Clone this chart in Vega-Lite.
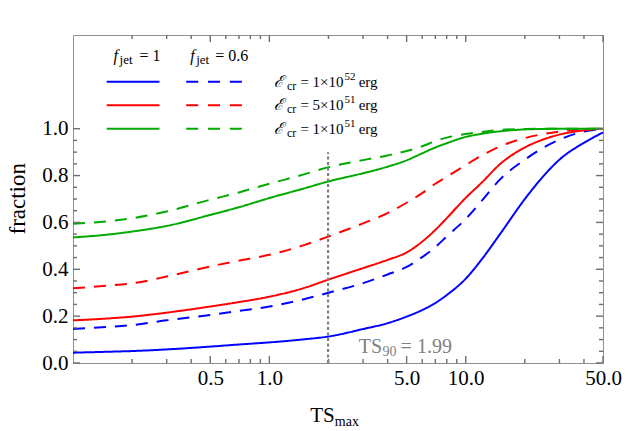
{
  "$schema": "https://vega.github.io/schema/vega-lite/v6.json",
  "width": 530,
  "height": 328,
  "autosize": {"type": "none"},
  "padding": {"left": 73, "top": 35, "right": 29, "bottom": 68},
  "config": {"view": {"stroke": "#909090", "strokeWidth": 1}, "background": "white"},
  "datasets": {
    "curves": [
      {"x":0.1,"y":0.044,"E":"1e52","f":"1"},{"x":0.15,"y":0.048,"E":"1e52","f":"1"},{"x":0.2,"y":0.051,"E":"1e52","f":"1"},{"x":0.3,"y":0.058,"E":"1e52","f":"1"},{"x":0.5,"y":0.070,"E":"1e52","f":"1"},{"x":0.7,"y":0.079,"E":"1e52","f":"1"},{"x":1,"y":0.088,"E":"1e52","f":"1"},{"x":1.5,"y":0.101,"E":"1e52","f":"1"},{"x":2,"y":0.113,"E":"1e52","f":"1"},{"x":3,"y":0.145,"E":"1e52","f":"1"},{"x":4,"y":0.170,"E":"1e52","f":"1"},{"x":5,"y":0.198,"E":"1e52","f":"1"},{"x":6,"y":0.226,"E":"1e52","f":"1"},{"x":7,"y":0.256,"E":"1e52","f":"1"},{"x":8,"y":0.290,"E":"1e52","f":"1"},{"x":10,"y":0.360,"E":"1e52","f":"1"},{"x":12,"y":0.440,"E":"1e52","f":"1"},{"x":15,"y":0.552,"E":"1e52","f":"1"},{"x":20,"y":0.700,"E":"1e52","f":"1"},{"x":25,"y":0.800,"E":"1e52","f":"1"},{"x":30,"y":0.868,"E":"1e52","f":"1"},{"x":40,"y":0.940,"E":"1e52","f":"1"},{"x":50,"y":0.984,"E":"1e52","f":"1"},
      {"x":0.1,"y":0.145,"E":"1e52","f":"0.6"},{"x":0.15,"y":0.154,"E":"1e52","f":"0.6"},{"x":0.2,"y":0.162,"E":"1e52","f":"0.6"},{"x":0.3,"y":0.182,"E":"1e52","f":"0.6"},{"x":0.5,"y":0.205,"E":"1e52","f":"0.6"},{"x":0.7,"y":0.222,"E":"1e52","f":"0.6"},{"x":1,"y":0.241,"E":"1e52","f":"0.6"},{"x":1.5,"y":0.272,"E":"1e52","f":"0.6"},{"x":2,"y":0.300,"E":"1e52","f":"0.6"},{"x":3,"y":0.341,"E":"1e52","f":"0.6"},{"x":4,"y":0.378,"E":"1e52","f":"0.6"},{"x":5,"y":0.410,"E":"1e52","f":"0.6"},{"x":6,"y":0.452,"E":"1e52","f":"0.6"},{"x":7,"y":0.495,"E":"1e52","f":"0.6"},{"x":8,"y":0.540,"E":"1e52","f":"0.6"},{"x":10,"y":0.615,"E":"1e52","f":"0.6"},{"x":12,"y":0.690,"E":"1e52","f":"0.6"},{"x":15,"y":0.785,"E":"1e52","f":"0.6"},{"x":20,"y":0.868,"E":"1e52","f":"0.6"},{"x":25,"y":0.920,"E":"1e52","f":"0.6"},{"x":30,"y":0.953,"E":"1e52","f":"0.6"},{"x":40,"y":0.988,"E":"1e52","f":"0.6"},{"x":50,"y":0.998,"E":"1e52","f":"0.6"},
      {"x":0.1,"y":0.182,"E":"5e51","f":"1"},{"x":0.15,"y":0.190,"E":"5e51","f":"1"},{"x":0.2,"y":0.198,"E":"5e51","f":"1"},{"x":0.3,"y":0.215,"E":"5e51","f":"1"},{"x":0.5,"y":0.241,"E":"5e51","f":"1"},{"x":0.7,"y":0.260,"E":"5e51","f":"1"},{"x":1,"y":0.283,"E":"5e51","f":"1"},{"x":1.5,"y":0.320,"E":"5e51","f":"1"},{"x":2,"y":0.356,"E":"5e51","f":"1"},{"x":3,"y":0.405,"E":"5e51","f":"1"},{"x":4,"y":0.440,"E":"5e51","f":"1"},{"x":5,"y":0.472,"E":"5e51","f":"1"},{"x":6,"y":0.518,"E":"5e51","f":"1"},{"x":7,"y":0.568,"E":"5e51","f":"1"},{"x":8,"y":0.618,"E":"5e51","f":"1"},{"x":10,"y":0.705,"E":"5e51","f":"1"},{"x":12,"y":0.768,"E":"5e51","f":"1"},{"x":15,"y":0.850,"E":"5e51","f":"1"},{"x":20,"y":0.920,"E":"5e51","f":"1"},{"x":25,"y":0.955,"E":"5e51","f":"1"},{"x":30,"y":0.975,"E":"5e51","f":"1"},{"x":40,"y":0.993,"E":"5e51","f":"1"},{"x":50,"y":1.0,"E":"5e51","f":"1"},
      {"x":0.1,"y":0.319,"E":"5e51","f":"0.6"},{"x":0.15,"y":0.330,"E":"5e51","f":"0.6"},{"x":0.2,"y":0.340,"E":"5e51","f":"0.6"},{"x":0.3,"y":0.369,"E":"5e51","f":"0.6"},{"x":0.5,"y":0.412,"E":"5e51","f":"0.6"},{"x":0.7,"y":0.437,"E":"5e51","f":"0.6"},{"x":1,"y":0.462,"E":"5e51","f":"0.6"},{"x":1.5,"y":0.503,"E":"5e51","f":"0.6"},{"x":2,"y":0.540,"E":"5e51","f":"0.6"},{"x":3,"y":0.596,"E":"5e51","f":"0.6"},{"x":4,"y":0.640,"E":"5e51","f":"0.6"},{"x":5,"y":0.684,"E":"5e51","f":"0.6"},{"x":6,"y":0.725,"E":"5e51","f":"0.6"},{"x":7,"y":0.765,"E":"5e51","f":"0.6"},{"x":8,"y":0.795,"E":"5e51","f":"0.6"},{"x":10,"y":0.845,"E":"5e51","f":"0.6"},{"x":12,"y":0.885,"E":"5e51","f":"0.6"},{"x":15,"y":0.925,"E":"5e51","f":"0.6"},{"x":20,"y":0.960,"E":"5e51","f":"0.6"},{"x":25,"y":0.978,"E":"5e51","f":"0.6"},{"x":30,"y":0.988,"E":"5e51","f":"0.6"},{"x":40,"y":0.998,"E":"5e51","f":"0.6"},{"x":50,"y":1.0,"E":"5e51","f":"0.6"},
      {"x":0.1,"y":0.536,"E":"1e51","f":"1"},{"x":0.15,"y":0.548,"E":"1e51","f":"1"},{"x":0.2,"y":0.561,"E":"1e51","f":"1"},{"x":0.3,"y":0.585,"E":"1e51","f":"1"},{"x":0.5,"y":0.632,"E":"1e51","f":"1"},{"x":0.7,"y":0.665,"E":"1e51","f":"1"},{"x":1,"y":0.704,"E":"1e51","f":"1"},{"x":1.5,"y":0.745,"E":"1e51","f":"1"},{"x":2,"y":0.775,"E":"1e51","f":"1"},{"x":3,"y":0.810,"E":"1e51","f":"1"},{"x":4,"y":0.838,"E":"1e51","f":"1"},{"x":5,"y":0.865,"E":"1e51","f":"1"},{"x":6,"y":0.895,"E":"1e51","f":"1"},{"x":7,"y":0.920,"E":"1e51","f":"1"},{"x":8,"y":0.938,"E":"1e51","f":"1"},{"x":10,"y":0.965,"E":"1e51","f":"1"},{"x":12,"y":0.978,"E":"1e51","f":"1"},{"x":15,"y":0.989,"E":"1e51","f":"1"},{"x":20,"y":0.997,"E":"1e51","f":"1"},{"x":25,"y":0.999,"E":"1e51","f":"1"},{"x":30,"y":1.0,"E":"1e51","f":"1"},{"x":40,"y":1.0,"E":"1e51","f":"1"},{"x":50,"y":1.0,"E":"1e51","f":"1"},
      {"x":0.1,"y":0.594,"E":"1e51","f":"0.6"},{"x":0.15,"y":0.605,"E":"1e51","f":"0.6"},{"x":0.2,"y":0.618,"E":"1e51","f":"0.6"},{"x":0.3,"y":0.647,"E":"1e51","f":"0.6"},{"x":0.5,"y":0.697,"E":"1e51","f":"0.6"},{"x":0.7,"y":0.728,"E":"1e51","f":"0.6"},{"x":1,"y":0.765,"E":"1e51","f":"0.6"},{"x":1.5,"y":0.805,"E":"1e51","f":"0.6"},{"x":2,"y":0.836,"E":"1e51","f":"0.6"},{"x":3,"y":0.866,"E":"1e51","f":"0.6"},{"x":4,"y":0.886,"E":"1e51","f":"0.6"},{"x":5,"y":0.905,"E":"1e51","f":"0.6"},{"x":6,"y":0.925,"E":"1e51","f":"0.6"},{"x":7,"y":0.947,"E":"1e51","f":"0.6"},{"x":8,"y":0.962,"E":"1e51","f":"0.6"},{"x":10,"y":0.977,"E":"1e51","f":"0.6"},{"x":12,"y":0.986,"E":"1e51","f":"0.6"},{"x":15,"y":0.995,"E":"1e51","f":"0.6"},{"x":20,"y":0.999,"E":"1e51","f":"0.6"},{"x":25,"y":1.0,"E":"1e51","f":"0.6"},{"x":30,"y":1.0,"E":"1e51","f":"0.6"},{"x":40,"y":1.0,"E":"1e51","f":"0.6"},{"x":50,"y":1.0,"E":"1e51","f":"0.6"}
    ],
    "one": [{"n": 1}]
  },
  "layer": [
    {
      "data": {"name": "curves"},
      "mark": {"type": "line", "strokeWidth": 2, "interpolate": "monotone"},
      "encoding": {
        "x": {"field": "x", "type": "quantitative",
              "scale": {"type": "log", "domain": [0.1, 50], "nice": false},
              "axis": {"orient": "bottom", "values": [0.5, 1, 5, 10, 50], "format": ".1f", "ticks": false, "tickSize": 0, "domain": false, "grid": false, "labelPadding": 4, "labelFont": "Liberation Serif", "labelFontSize": 21, "labelColor": "black", "labelFlush": false, "labelOverlap": false, "title": null}},
        "y": {"field": "y", "type": "quantitative",
              "scale": {"domain": [0, 1.4], "nice": false, "zero": false},
              "axis": {"orient": "left", "values": [0, 0.2, 0.4, 0.6, 0.8, 1.0], "format": ".1f", "ticks": false, "tickSize": 0, "domain": false, "grid": false, "labelPadding": 5, "labelFont": "Liberation Serif", "labelFontSize": 21, "labelColor": "black", "labelFlush": false, "labelOverlap": false, "title": null}},
        "color": {"field": "E", "type": "nominal", "scale": {"domain": ["1e52", "5e51", "1e51"], "range": ["#0000ff", "#ff0000", "#00aa00"]}, "legend": null},
        "strokeDash": {"field": "f", "type": "nominal", "scale": {"domain": ["1", "0.6"], "range": [[1, 0], [12, 9]]}, "legend": null}
      }
    },
    {"data": {"values": [{"v": 0.5}, {"v": 1}, {"v": 5}, {"v": 10}, {"v": 50}]}, "mark": {"type": "rule", "color": "#6e6e6e", "strokeWidth": 1.4},
     "encoding": {"x": {"field": "v", "type": "quantitative"}, "y": {"datum": 0, "type": "quantitative"}, "y2": {"datum": 0.0299}}},
    {"data": {"values": [{"v": 0.2}, {"v": 0.3}, {"v": 0.4}, {"v": 0.6}, {"v": 0.7}, {"v": 0.8}, {"v": 0.9}, {"v": 2}, {"v": 3}, {"v": 4}, {"v": 6}, {"v": 7}, {"v": 8}, {"v": 9}, {"v": 20}, {"v": 30}, {"v": 40}]}, "mark": {"type": "rule", "color": "#6e6e6e", "strokeWidth": 1.4},
     "encoding": {"x": {"field": "v", "type": "quantitative"}, "y": {"datum": 0, "type": "quantitative"}, "y2": {"datum": 0.0171}}},
    {"data": {"values": [{"v": 0.5}, {"v": 1}, {"v": 5}, {"v": 10}, {"v": 50}]}, "mark": {"type": "rule", "color": "#6e6e6e", "strokeWidth": 1.4},
     "encoding": {"x": {"field": "v", "type": "quantitative"}, "y": {"datum": 1.4, "type": "quantitative"}, "y2": {"datum": 1.3701}}},
    {"data": {"values": [{"v": 0.2}, {"v": 0.3}, {"v": 0.4}, {"v": 0.6}, {"v": 0.7}, {"v": 0.8}, {"v": 0.9}, {"v": 2}, {"v": 3}, {"v": 4}, {"v": 6}, {"v": 7}, {"v": 8}, {"v": 9}, {"v": 20}, {"v": 30}, {"v": 40}]}, "mark": {"type": "rule", "color": "#6e6e6e", "strokeWidth": 1.4},
     "encoding": {"x": {"field": "v", "type": "quantitative"}, "y": {"datum": 1.4, "type": "quantitative"}, "y2": {"datum": 1.3829}}},
    {"data": {"values": [{"v": 0}, {"v": 0.2}, {"v": 0.4}, {"v": 0.6}, {"v": 0.8}, {"v": 1.0}]}, "mark": {"type": "rule", "color": "#6e6e6e", "strokeWidth": 1.4},
     "encoding": {"y": {"field": "v", "type": "quantitative"}, "x": {"datum": 0.1, "type": "quantitative"}, "x2": {"datum": 0.10857}}},
    {"data": {"values": [{"v": 0.05}, {"v": 0.1}, {"v": 0.15}, {"v": 0.25}, {"v": 0.3}, {"v": 0.35}, {"v": 0.45}, {"v": 0.5}, {"v": 0.55}, {"v": 0.65}, {"v": 0.7}, {"v": 0.75}, {"v": 0.85}, {"v": 0.9}, {"v": 0.95}]}, "mark": {"type": "rule", "color": "#6e6e6e", "strokeWidth": 1.4},
     "encoding": {"y": {"field": "v", "type": "quantitative"}, "x": {"datum": 0.1, "type": "quantitative"}, "x2": {"datum": 0.10481}}},
    {"data": {"values": [{"v": 0}, {"v": 0.2}, {"v": 0.4}, {"v": 0.6}, {"v": 0.8}, {"v": 1.0}]}, "mark": {"type": "rule", "color": "#6e6e6e", "strokeWidth": 1.4},
     "encoding": {"y": {"field": "v", "type": "quantitative"}, "x": {"datum": 50, "type": "quantitative"}, "x2": {"datum": 46.05}}},
    {"data": {"values": [{"v": 0.05}, {"v": 0.1}, {"v": 0.15}, {"v": 0.25}, {"v": 0.3}, {"v": 0.35}, {"v": 0.45}, {"v": 0.5}, {"v": 0.55}, {"v": 0.65}, {"v": 0.7}, {"v": 0.75}, {"v": 0.85}, {"v": 0.9}, {"v": 0.95}]}, "mark": {"type": "rule", "color": "#6e6e6e", "strokeWidth": 1.4},
     "encoding": {"y": {"field": "v", "type": "quantitative"}, "x": {"datum": 50, "type": "quantitative"}, "x2": {"datum": 47.70}}},
    {
      "data": {"name": "one"},
      "mark": {"type": "rule", "color": "#808080", "strokeWidth": 2.2, "strokeDash": [3, 2.5]},
      "encoding": {
        "x": {"datum": 1.99, "type": "quantitative"},
        "y": {"datum": 0, "type": "quantitative"},
        "y2": {"datum": 0.9}
      }
    },
    {"data": {"name": "one"}, "mark": {"type": "text", "text": "TS", "font": "Liberation Serif", "fontSize": 20, "color": "#808080", "align": "left", "baseline": "alphabetic"},
     "encoding": {"x": {"datum": 2.855, "type": "quantitative"}, "y": {"datum": 0.044, "type": "quantitative"}}},
    {"data": {"name": "one"}, "mark": {"type": "text", "text": "90", "font": "Liberation Serif", "fontSize": 14, "color": "#808080", "align": "left", "baseline": "alphabetic"},
     "encoding": {"x": {"datum": 3.772, "type": "quantitative"}, "y": {"datum": 0.028, "type": "quantitative"}}},
    {"data": {"name": "one"}, "mark": {"type": "text", "text": "= 1.99", "font": "Liberation Serif", "fontSize": 20, "color": "#808080", "align": "left", "baseline": "alphabetic"},
     "encoding": {"x": {"datum": 4.66, "type": "quantitative"}, "y": {"datum": 0.044, "type": "quantitative"}}},
    {"data": {"name": "one"}, "mark": {"type": "text", "text": "fraction", "font": "Liberation Serif", "fontSize": 23, "color": "black", "align": "center", "baseline": "alphabetic", "angle": 270},
     "encoding": {"x": {"datum": 0.0569, "type": "quantitative"}, "y": {"datum": 0.701, "type": "quantitative"}}},
    {"data": {"name": "one"}, "mark": {"type": "text", "text": "TS", "font": "Liberation Serif", "fontSize": 21, "color": "black", "align": "left", "baseline": "alphabetic"},
     "encoding": {"x": {"datum": 1.615, "type": "quantitative"}, "y": {"datum": -0.252, "type": "quantitative"}}},
    {"data": {"name": "one"}, "mark": {"type": "text", "text": "max", "font": "Liberation Serif", "fontSize": 14, "color": "black", "align": "left", "baseline": "alphabetic"},
     "encoding": {"x": {"datum": 2.154, "type": "quantitative"}, "y": {"datum": -0.269, "type": "quantitative"}}},

    {"data": {"name": "one"}, "mark": {"type": "text", "text": "f", "font": "Liberation Serif", "fontSize": 16, "fontStyle": "italic", "color": "black", "align": "left", "baseline": "middle"},
     "encoding": {"x": {"datum": 0.1606, "type": "quantitative"}, "y": {"datum": 1.31, "type": "quantitative"}}},
    {"data": {"name": "one"}, "mark": {"type": "text", "text": "jet", "font": "Liberation Serif", "fontSize": 13, "color": "black", "align": "left", "baseline": "middle", "dy": 4},
     "encoding": {"x": {"datum": 0.1727, "type": "quantitative"}, "y": {"datum": 1.31, "type": "quantitative"}}},
    {"data": {"name": "one"}, "mark": {"type": "text", "text": "= 1", "font": "Liberation Serif", "fontSize": 16, "color": "black", "align": "left", "baseline": "middle"},
     "encoding": {"x": {"datum": 0.2180, "type": "quantitative"}, "y": {"datum": 1.31, "type": "quantitative"}}},
    {"data": {"name": "one"}, "mark": {"type": "text", "text": "f", "font": "Liberation Serif", "fontSize": 16, "fontStyle": "italic", "color": "black", "align": "left", "baseline": "middle"},
     "encoding": {"x": {"datum": 0.3953, "type": "quantitative"}, "y": {"datum": 1.31, "type": "quantitative"}}},
    {"data": {"name": "one"}, "mark": {"type": "text", "text": "jet", "font": "Liberation Serif", "fontSize": 13, "color": "black", "align": "left", "baseline": "middle", "dy": 4},
     "encoding": {"x": {"datum": 0.4242, "type": "quantitative"}, "y": {"datum": 1.31, "type": "quantitative"}}},
    {"data": {"name": "one"}, "mark": {"type": "text", "text": "= 0.6", "font": "Liberation Serif", "fontSize": 16, "color": "black", "align": "left", "baseline": "middle"},
     "encoding": {"x": {"datum": 0.5303, "type": "quantitative"}, "y": {"datum": 1.31, "type": "quantitative"}}},

    {"data": {"name": "one"}, "mark": {"type": "rule", "color": "#0000ff", "strokeWidth": 2},
     "encoding": {"x": {"datum": 0.1485, "type": "quantitative"}, "x2": {"datum": 0.2756}, "y": {"datum": 1.2, "type": "quantitative"}}},
    {"data": {"name": "one"}, "mark": {"type": "rule", "color": "#0000ff", "strokeWidth": 2, "strokeDash": [12, 9.8]},
     "encoding": {"x": {"datum": 0.3772, "type": "quantitative"}, "x2": {"datum": 0.7256}, "y": {"datum": 1.2, "type": "quantitative"}}},
    {"data": {"name": "one"}, "mark": {"type": "rule", "color": "#ff0000", "strokeWidth": 2},
     "encoding": {"x": {"datum": 0.1485, "type": "quantitative"}, "x2": {"datum": 0.2756}, "y": {"datum": 1.1, "type": "quantitative"}}},
    {"data": {"name": "one"}, "mark": {"type": "rule", "color": "#ff0000", "strokeWidth": 2, "strokeDash": [12, 9.8]},
     "encoding": {"x": {"datum": 0.3772, "type": "quantitative"}, "x2": {"datum": 0.7256}, "y": {"datum": 1.1, "type": "quantitative"}}},
    {"data": {"name": "one"}, "mark": {"type": "rule", "color": "#00aa00", "strokeWidth": 2},
     "encoding": {"x": {"datum": 0.1485, "type": "quantitative"}, "x2": {"datum": 0.2756}, "y": {"datum": 1.0, "type": "quantitative"}}},
    {"data": {"name": "one"}, "mark": {"type": "rule", "color": "#00aa00", "strokeWidth": 2, "strokeDash": [12, 9.8]},
     "encoding": {"x": {"datum": 0.3772, "type": "quantitative"}, "x2": {"datum": 0.7256}, "y": {"datum": 1.0, "type": "quantitative"}}},

    {"data": {"name": "one"}, "mark": {"type": "text", "text": "ℰ", "font": "DejaVu Serif", "fontSize": 16, "fontStyle": "italic", "color": "black", "align": "left", "baseline": "middle"},
     "encoding": {"x": {"datum": 1.052, "type": "quantitative"}, "y": {"datum": 1.2, "type": "quantitative"}}},
    {"data": {"name": "one"}, "mark": {"type": "text", "text": "cr", "font": "Liberation Serif", "fontSize": 12, "color": "black", "align": "left", "baseline": "middle", "dy": 4},
     "encoding": {"x": {"datum": 1.228, "type": "quantitative"}, "y": {"datum": 1.2, "type": "quantitative"}}},
    {"data": {"name": "one"}, "mark": {"type": "text", "text": "= 1×10", "font": "Liberation Serif", "fontSize": 15, "color": "black", "align": "left", "baseline": "middle"},
     "encoding": {"x": {"datum": 1.439, "type": "quantitative"}, "y": {"datum": 1.2, "type": "quantitative"}}},
    {"data": {"name": "one"}, "mark": {"type": "text", "text": "52", "font": "Liberation Serif", "fontSize": 11, "color": "black", "align": "left", "baseline": "middle", "dy": -5},
     "encoding": {"x": {"datum": 2.413, "type": "quantitative"}, "y": {"datum": 1.2, "type": "quantitative"}}},
    {"data": {"name": "one"}, "mark": {"type": "text", "text": "erg", "font": "Liberation Serif", "fontSize": 15, "color": "black", "align": "left", "baseline": "middle"},
     "encoding": {"x": {"datum": 2.85, "type": "quantitative"}, "y": {"datum": 1.2, "type": "quantitative"}}},

    {"data": {"name": "one"}, "mark": {"type": "text", "text": "ℰ", "font": "DejaVu Serif", "fontSize": 16, "fontStyle": "italic", "color": "black", "align": "left", "baseline": "middle"},
     "encoding": {"x": {"datum": 1.052, "type": "quantitative"}, "y": {"datum": 1.1, "type": "quantitative"}}},
    {"data": {"name": "one"}, "mark": {"type": "text", "text": "cr", "font": "Liberation Serif", "fontSize": 12, "color": "black", "align": "left", "baseline": "middle", "dy": 4},
     "encoding": {"x": {"datum": 1.228, "type": "quantitative"}, "y": {"datum": 1.1, "type": "quantitative"}}},
    {"data": {"name": "one"}, "mark": {"type": "text", "text": "= 5×10", "font": "Liberation Serif", "fontSize": 15, "color": "black", "align": "left", "baseline": "middle"},
     "encoding": {"x": {"datum": 1.439, "type": "quantitative"}, "y": {"datum": 1.1, "type": "quantitative"}}},
    {"data": {"name": "one"}, "mark": {"type": "text", "text": "51", "font": "Liberation Serif", "fontSize": 11, "color": "black", "align": "left", "baseline": "middle", "dy": -5},
     "encoding": {"x": {"datum": 2.413, "type": "quantitative"}, "y": {"datum": 1.1, "type": "quantitative"}}},
    {"data": {"name": "one"}, "mark": {"type": "text", "text": "erg", "font": "Liberation Serif", "fontSize": 15, "color": "black", "align": "left", "baseline": "middle"},
     "encoding": {"x": {"datum": 2.85, "type": "quantitative"}, "y": {"datum": 1.1, "type": "quantitative"}}},

    {"data": {"name": "one"}, "mark": {"type": "text", "text": "ℰ", "font": "DejaVu Serif", "fontSize": 16, "fontStyle": "italic", "color": "black", "align": "left", "baseline": "middle"},
     "encoding": {"x": {"datum": 1.052, "type": "quantitative"}, "y": {"datum": 1.0, "type": "quantitative"}}},
    {"data": {"name": "one"}, "mark": {"type": "text", "text": "cr", "font": "Liberation Serif", "fontSize": 12, "color": "black", "align": "left", "baseline": "middle", "dy": 4},
     "encoding": {"x": {"datum": 1.228, "type": "quantitative"}, "y": {"datum": 1.0, "type": "quantitative"}}},
    {"data": {"name": "one"}, "mark": {"type": "text", "text": "= 1×10", "font": "Liberation Serif", "fontSize": 15, "color": "black", "align": "left", "baseline": "middle"},
     "encoding": {"x": {"datum": 1.439, "type": "quantitative"}, "y": {"datum": 1.0, "type": "quantitative"}}},
    {"data": {"name": "one"}, "mark": {"type": "text", "text": "51", "font": "Liberation Serif", "fontSize": 11, "color": "black", "align": "left", "baseline": "middle", "dy": -5},
     "encoding": {"x": {"datum": 2.413, "type": "quantitative"}, "y": {"datum": 1.0, "type": "quantitative"}}},
    {"data": {"name": "one"}, "mark": {"type": "text", "text": "erg", "font": "Liberation Serif", "fontSize": 15, "color": "black", "align": "left", "baseline": "middle"},
     "encoding": {"x": {"datum": 2.85, "type": "quantitative"}, "y": {"datum": 1.0, "type": "quantitative"}}}
  ]
}
